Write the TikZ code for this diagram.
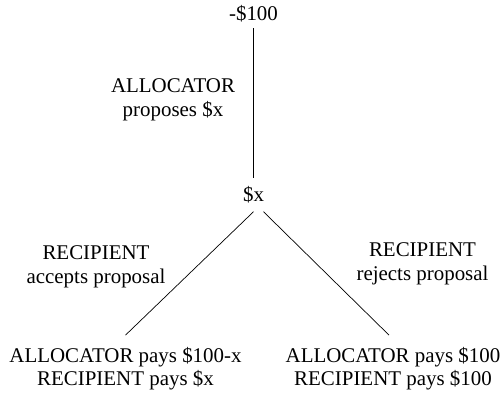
\documentclass[tikz,border=0pt]{standalone}
\usepackage{fontspec}
\setmainfont{Liberation Serif}
\newfontfamily\tms{Liberation Serif}
\usepackage{tikz}
\tikzset{lbl/.style={font=\tms\fontsize{21}{24.5}\selectfont, align=center, inner sep=6bp}}
\tikzset{leaf/.style={font=\tms\fontsize{21}{22.5}\selectfont, align=center, inner sep=12bp}}

\begin{document}
\begin{tikzpicture}[x=1bp, y=-1bp, line width=.7bp]
\useasboundingbox (0,0) rectangle (503,396);

\node[lbl] (root) at (253.5, 13.5) {-\$100};
\node[lbl, inner sep=8bp] (x) at (253.5, 195) {\$x};
\node[leaf] (acc) at (125.5, 368.5) {ALLOCATOR pays \$100-x\\RECIPIENT pays \$x};
\node[leaf] (rej) at (393, 368.5) {ALLOCATOR pays \$100\\RECIPIENT pays \$100};

\draw (root.south) -- (x.north);
\draw (x.south) -- (acc.north);
\draw ([xshift=10bp]x.south) -- ([xshift=-4bp]rej.north);

\node[lbl] (prop) at (173, 100) {ALLOCATOR\\proposes \$x};
\node[lbl] (yes) at (96, 266.5) {RECIPIENT\\accepts proposal};
\node[lbl] (no) at (422.5, 263.5) {RECIPIENT\\rejects proposal};

\end{tikzpicture}
\end{document}
